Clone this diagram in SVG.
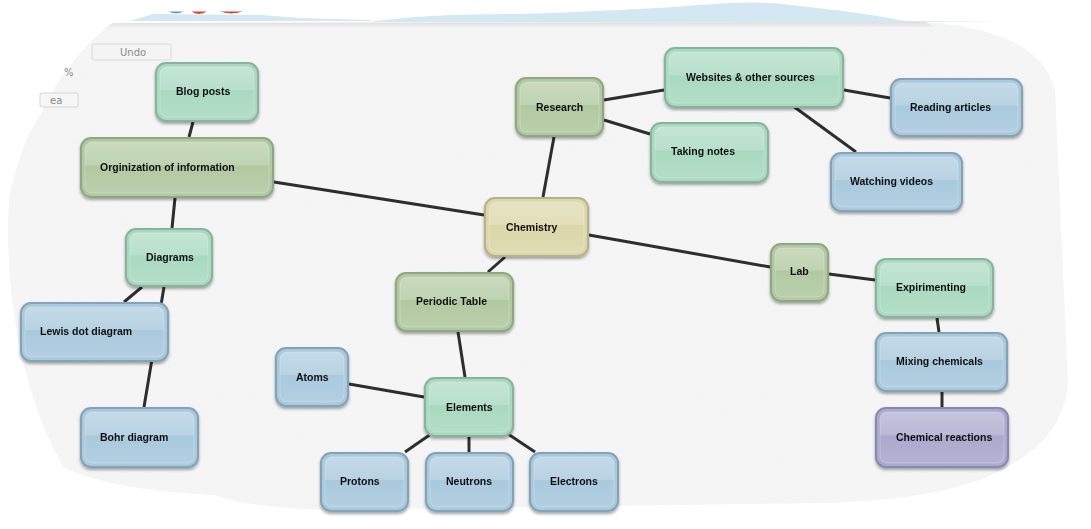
<svg xmlns="http://www.w3.org/2000/svg" width="1091" height="529" viewBox="0 0 1091 529">
<defs>
<style>
.n rect.b{stroke-width:2}
.g rect.b{fill:#a9d9c1;stroke:#88b49e}
.o rect.b{fill:#b1c9a1;stroke:#8fa882}
.u rect.b{fill:#a9c9dd;stroke:#83a3b8}
.k rect.b{fill:#dbd7a9;stroke:#b6b28a}
.p rect.b{fill:#aba9cd;stroke:#8a88ae}
rect.h{fill:url(#gl);stroke:#ffffff;stroke-opacity:.25;stroke-width:1}
.n text{font-family:"Liberation Sans",Arial,sans-serif;font-weight:bold;font-size:10.5px;fill:#111}
.c line{stroke:#2e2e2e;stroke-width:3;stroke-linecap:butt}
.ui{font-family:"DejaVu Sans",sans-serif;font-size:10px;fill:#8a8a8a}
</style>
<linearGradient id="gl" x1="0" y1="0" x2="0" y2="1">
<stop offset="0" stop-color="#fff" stop-opacity=".32"/>
<stop offset=".45" stop-color="#fff" stop-opacity=".18"/>
<stop offset=".47" stop-color="#fff" stop-opacity="0"/>
<stop offset="1" stop-color="#fff" stop-opacity=".12"/>
</linearGradient>
<filter id="sh" x="-10%" y="-10%" width="120%" height="130%">
<feDropShadow dx="0" dy="2" stdDeviation="1.5" flood-color="#000" flood-opacity=".35"/>
</filter>
<filter id="tx" x="0" y="0" width="100%" height="100%">
<feTurbulence type="fractalNoise" baseFrequency=".9" numOctaves="2" result="t"/>
<feColorMatrix in="t" type="matrix" values="0 0 0 0 .85  0 0 0 0 .85  0 0 0 0 .85  0 0 0 .3 0"/>
<feComposite in2="SourceGraphic" operator="in" result="m"/>
<feMerge><feMergeNode in="SourceGraphic"/><feMergeNode in="m"/></feMerge>
</filter>
<linearGradient id="topb" x1="0" y1="0" x2="0" y2="1">
<stop offset="0" stop-color="#dedede"/>
<stop offset="1" stop-color="#f6f6f6"/>
</linearGradient>
</defs>
<rect width="1091" height="529" fill="#ffffff"/>
<g id="background">
<path d="M130,21 L153,14 L262,15 L300,18 L370,20 L372,21 Z" fill="#d3e8f2"/>
<path d="M370,22 Q420,14 520,14 Q640,10 700,5 Q755,0 790,5 Q860,12 905,21 L1010,22 L370,22 Z" fill="#d3e8f2"/>
<path d="M167,11 Q176,17 185,11 Z" fill="#5a9ec2" stroke="#fff" stroke-width="1"/>
<path d="M190,11 Q199,18 208,11 Z" fill="#d9452c" stroke="#fff" stroke-width="1"/>
<path d="M218,11 Q231,17 245,11 Z" fill="#d9452c" stroke="#fff" stroke-width="1"/>
<path d="M113,23 L925,22 Q1040,30 1055,90 L1068,385 Q1062,440 1005,468 Q950,500 820,503 L320,510 Q240,506 215,495 Q110,490 63,467 Q25,400 12,300 Q5,230 10,193 Q22,140 43,110 Q60,75 77,57 Q95,35 113,23 Z" fill="#f6f6f6" filter="url(#tx)"/>
<path d="M113,23 L925,22 L935,27 L103,29 Z" fill="url(#topb)"/>
</g>
<g id="ui">
<rect x="92" y="44" width="79" height="16" rx="2" fill="#f4f4f4" stroke="#dadada"/>
<text class="ui" x="120" y="56">Undo</text>
<text class="ui" x="64" y="76" font-size="9px">%</text>
<rect x="40" y="93" width="38" height="14" rx="2" fill="#f6f6f6" stroke="#d6d6d6"/>
<text class="ui" x="50" y="104" fill="#555">ea</text>
</g>
<g id="connectors" class="c">
<line x1="193" y1="122" x2="189" y2="137"/>
<line x1="274" y1="182" x2="484" y2="215"/>
<line x1="175" y1="198" x2="172" y2="228"/>
<line x1="142" y1="287" x2="124" y2="302"/>
<line x1="164" y1="287" x2="144" y2="407"/>
<line x1="543" y1="197" x2="554" y2="137"/>
<line x1="604" y1="100" x2="664" y2="90"/>
<line x1="604" y1="120" x2="650" y2="134"/>
<line x1="844" y1="90" x2="890" y2="98"/>
<line x1="793" y1="106" x2="856" y2="152"/>
<line x1="589" y1="235" x2="770" y2="267"/>
<line x1="829" y1="274" x2="875" y2="280"/>
<line x1="937" y1="318" x2="939" y2="332"/>
<line x1="942" y1="392" x2="942" y2="407"/>
<line x1="505" y1="257" x2="488" y2="272"/>
<line x1="458" y1="332" x2="465" y2="377"/>
<line x1="349" y1="384" x2="424" y2="397"/>
<line x1="431" y1="434" x2="405" y2="452"/>
<line x1="469" y1="437" x2="469" y2="452"/>
<line x1="508" y1="434" x2="535" y2="452"/>
</g>
<g id="nodes">
<g id="chemistry" class="n k" filter="url(#sh)"><rect class="b" x="485" y="198" width="103" height="58" rx="10"/><rect class="h" x="489" y="202" width="95" height="50" rx="7"/><text x="506" y="231">Chemistry</text></g>
<g id="blog-posts" class="n g" filter="url(#sh)"><rect class="b" x="156" y="63" width="102" height="58" rx="10"/><rect class="h" x="160" y="67" width="94" height="50" rx="7"/><text x="176" y="95">Blog posts</text></g>
<g id="organization" class="n o" filter="url(#sh)"><rect class="b" x="81" y="138" width="192" height="59" rx="10"/><rect class="h" x="85" y="142" width="184" height="51" rx="7"/><text x="100" y="171">Orginization of information</text></g>
<g id="diagrams" class="n g" filter="url(#sh)"><rect class="b" x="126" y="229" width="86" height="57" rx="10"/><rect class="h" x="130" y="233" width="78" height="49" rx="7"/><text x="146" y="261">Diagrams</text></g>
<g id="lewis" class="n u" filter="url(#sh)"><rect class="b" x="21" y="303" width="147" height="58" rx="10"/><rect class="h" x="25" y="307" width="139" height="50" rx="7"/><text x="40" y="335">Lewis dot diagram</text></g>
<g id="bohr" class="n u" filter="url(#sh)"><rect class="b" x="81" y="408" width="117" height="59" rx="10"/><rect class="h" x="85" y="412" width="109" height="51" rx="7"/><text x="100" y="441">Bohr diagram</text></g>
<g id="research" class="n o" filter="url(#sh)"><rect class="b" x="516" y="78" width="87" height="58" rx="10"/><rect class="h" x="520" y="82" width="79" height="50" rx="7"/><text x="536" y="111">Research</text></g>
<g id="websites" class="n g" filter="url(#sh)"><rect class="b" x="665" y="48" width="178" height="59" rx="10"/><rect class="h" x="669" y="52" width="170" height="51" rx="7"/><text x="686" y="81">Websites &amp; other sources</text></g>
<g id="taking-notes" class="n g" filter="url(#sh)"><rect class="b" x="651" y="123" width="117" height="59" rx="10"/><rect class="h" x="655" y="127" width="109" height="51" rx="7"/><text x="671" y="155">Taking notes</text></g>
<g id="reading" class="n u" filter="url(#sh)"><rect class="b" x="891" y="79" width="131" height="57" rx="10"/><rect class="h" x="895" y="83" width="123" height="49" rx="7"/><text x="910" y="111">Reading articles</text></g>
<g id="watching" class="n u" filter="url(#sh)"><rect class="b" x="831" y="153" width="131" height="58" rx="10"/><rect class="h" x="835" y="157" width="123" height="50" rx="7"/><text x="850" y="185">Watching videos</text></g>
<g id="lab" class="n o" filter="url(#sh)"><rect class="b" x="771" y="244" width="57" height="57" rx="10"/><rect class="h" x="775" y="248" width="49" height="49" rx="7"/><text x="790" y="275">Lab</text></g>
<g id="expirimenting" class="n g" filter="url(#sh)"><rect class="b" x="876" y="259" width="117" height="58" rx="10"/><rect class="h" x="880" y="263" width="109" height="50" rx="7"/><text x="896" y="291">Expirimenting</text></g>
<g id="mixing" class="n u" filter="url(#sh)"><rect class="b" x="876" y="333" width="131" height="58" rx="10"/><rect class="h" x="880" y="337" width="123" height="50" rx="7"/><text x="896" y="365">Mixing chemicals</text></g>
<g id="reactions" class="n p" filter="url(#sh)"><rect class="b" x="876" y="408" width="132" height="59" rx="10"/><rect class="h" x="880" y="412" width="124" height="51" rx="7"/><text x="896" y="441">Chemical reactions</text></g>
<g id="periodic" class="n o" filter="url(#sh)"><rect class="b" x="396" y="273" width="117" height="58" rx="10"/><rect class="h" x="400" y="277" width="109" height="50" rx="7"/><text x="416" y="305">Periodic Table</text></g>
<g id="atoms" class="n u" filter="url(#sh)"><rect class="b" x="276" y="348" width="72" height="58" rx="10"/><rect class="h" x="280" y="352" width="64" height="50" rx="7"/><text x="296" y="381">Atoms</text></g>
<g id="elements" class="n g" filter="url(#sh)"><rect class="b" x="425" y="378" width="88" height="58" rx="10"/><rect class="h" x="429" y="382" width="80" height="50" rx="7"/><text x="446" y="411">Elements</text></g>
<g id="protons" class="n u" filter="url(#sh)"><rect class="b" x="321" y="453" width="87" height="58" rx="10"/><rect class="h" x="325" y="457" width="79" height="50" rx="7"/><text x="340" y="485">Protons</text></g>
<g id="neutrons" class="n u" filter="url(#sh)"><rect class="b" x="426" y="453" width="87" height="58" rx="10"/><rect class="h" x="430" y="457" width="79" height="50" rx="7"/><text x="446" y="485">Neutrons</text></g>
<g id="electrons" class="n u" filter="url(#sh)"><rect class="b" x="530" y="453" width="88" height="58" rx="10"/><rect class="h" x="534" y="457" width="80" height="50" rx="7"/><text x="550" y="485">Electrons</text></g>
</g>
</svg>
